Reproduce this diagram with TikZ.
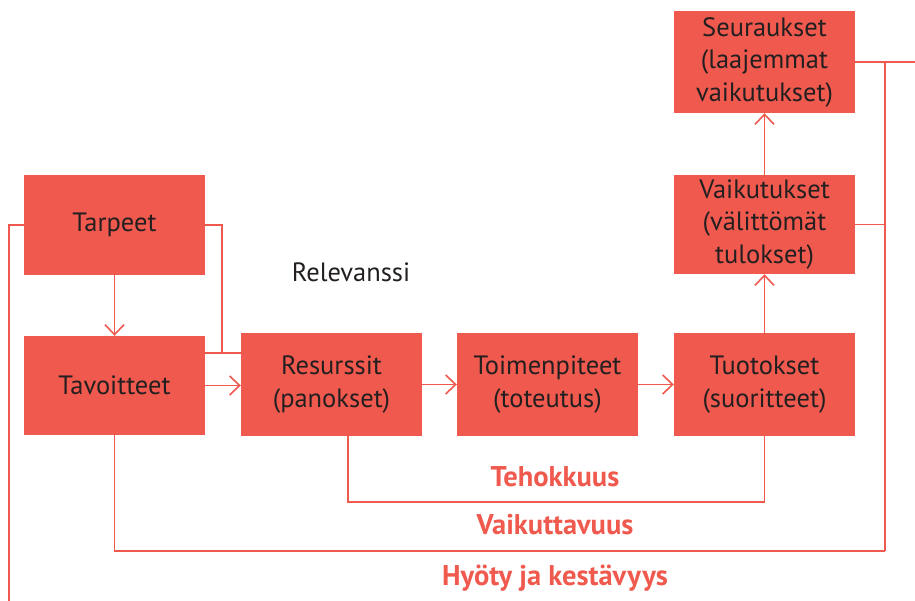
\documentclass[tikz,border=0pt]{standalone}
\usepackage{fontspec}
\setmainfont{PT Sans}
\usetikzlibrary{arrows.meta,calc}
\definecolor{boxred}{RGB}{240,90,78}
\definecolor{txt}{RGB}{35,31,32}
\begin{document}
\begin{tikzpicture}[x=1pt,y=-1pt,
 box/.style={fill=boxred,draw=none,minimum width=181pt,minimum height=100pt,inner sep=0pt,align=center,text=txt,font=\fontsize{26.5}{32.5}\selectfont},
 link/.style={draw=boxred,line width=1.6pt},
 arr/.style={link,-{Straight Barb[length=10pt,width=19pt,line width=1.6pt]}},
 lbl/.style={text=boxred,font=\fontsize{28.5}{32}\selectfont\bfseries},
 plain/.style={text=txt,font=\fontsize{26.5}{32}\selectfont}]
\useasboundingbox (0,0) rectangle (915,601);
\node[box] (tarpeet) at (114.5,225) {Tarpeet};
\node[box,minimum height=99pt] (tavoitteet) at (114.5,385.5) {Tavoitteet};
\node[box,minimum height=103pt] (resurssit) at (331.5,384.5) {Resurssit\\(panokset)};
\node[box,minimum height=103pt] (toimen) at (547.5,384.5) {Toimenpiteet\\(toteutus)};
\node[box,minimum height=103pt] (tuotokset) at (764.5,384.5) {Tuotokset\\(suoritteet)};
\node[box,minimum height=99pt] (vaikutukset) at (764.5,224.5) {Vaikutukset\\(välittömät\\tulokset)};
\node[box,minimum height=102pt] (seuraukset) at (764.5,62) {Seuraukset\\(laajemmat\\vaikutukset)};
\draw[arr] (tarpeet) -- (tavoitteet);
\draw[arr] (tavoitteet.east) -- (resurssit.west|-tavoitteet.east);
\draw[arr] (resurssit) -- (toimen);
\draw[arr] (toimen) -- (tuotokset);
\draw[arr] (tuotokset) -- (vaikutukset);
\draw[arr] (vaikutukset) -- (seuraukset);
\coordinate (rj) at (222,353);
\draw[link] (tarpeet.east) -| (rj);
\draw[link] (tavoitteet.east|-rj) -- (resurssit.west|-rj);
\coordinate (lb) at (9,601);
\draw[link] (tarpeet.west) -| (lb);
\coordinate (rc) at (885,551);
\coordinate (re) at (915,62);
\draw[link] (seuraukset.east) -- (re);
\draw[link] (rc|-seuraukset.east) -- (rc);
\draw[link] (vaikutukset.east) -- (rc|-vaikutukset.east);
\draw[link] (tavoitteet.south) |- (rc);
\coordinate (tb) at (348,502);
\draw[link] (resurssit.south -| tb) -- (tb) -| (tuotokset.south);
\node[lbl] (teh) at (555,477) {Tehokkuus};
\node[lbl] (vai) at (555,525) {Vaikuttavuus};
\node[lbl] (hyo) at (555,578) {Hyöty ja kestävyys};
\node[plain] (rel) at (351,272) {Relevanssi};
\end{tikzpicture}
\end{document}
